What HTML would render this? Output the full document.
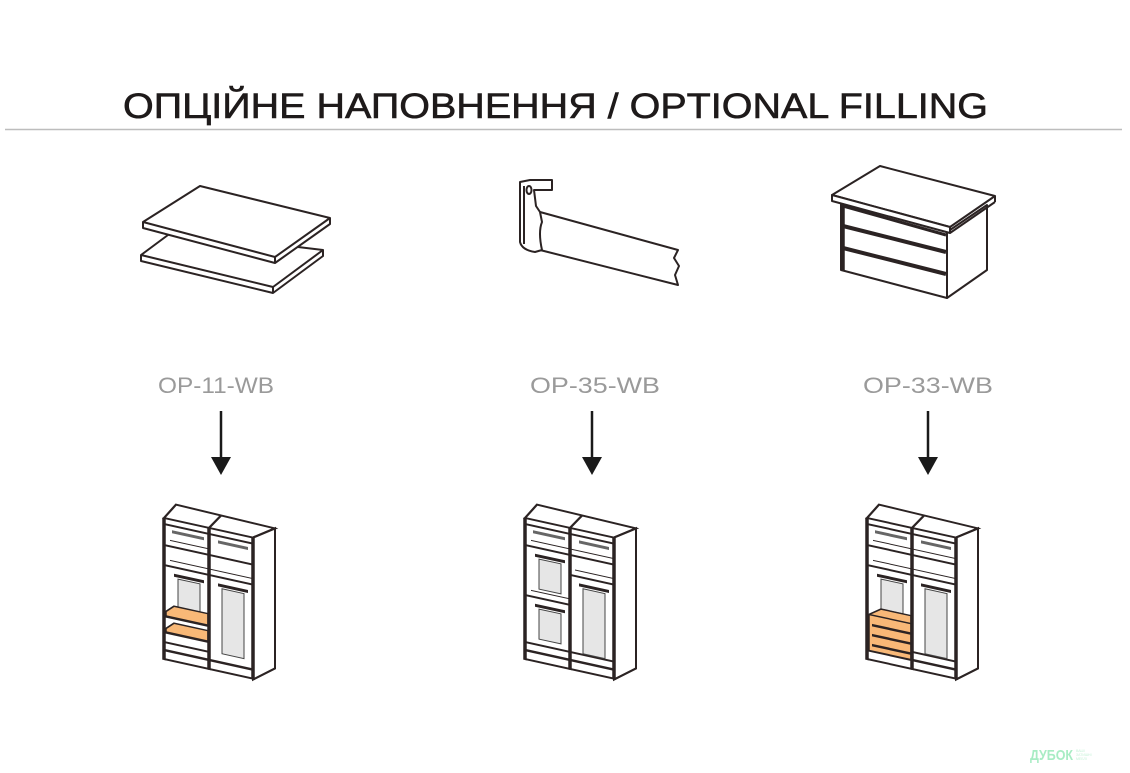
<!DOCTYPE html>
<html><head><meta charset="utf-8"><style>
html,body{margin:0;padding:0;background:#fff;width:1130px;height:773px;overflow:hidden}
svg{display:block}
text{font-family:"Liberation Sans",sans-serif}
</style></head><body>
<svg width="1130" height="773" viewBox="0 0 1130 773" xmlns="http://www.w3.org/2000/svg">
<defs>
<g id="ward">
  <polygon points="0,0 12,-16 111,-14 89,0" fill="#fff" stroke="#2b2323" stroke-width="2"/>
  <line x1="45" y1="0" x2="57" y2="-15" stroke="#2b2323" stroke-width="2"/>
  <polygon points="89,0 111,-14 111,126 89,142" fill="#fff" stroke="#2b2323" stroke-width="2"/>
  <line x1="0" y1="132" x2="89" y2="132" stroke="#2b2323" stroke-width="2.5"/>
  <line x1="0" y1="141" x2="89" y2="141" stroke="#2b2323" stroke-width="2"/>
  <line x1="0" y1="6" x2="89" y2="6" stroke="#2b2323" stroke-width="2"/>
</g>
<g id="posts">
  <line x1="0" y1="0" x2="0" y2="142" stroke="#2b2323" stroke-width="3.5"/>
  <line x1="45" y1="0" x2="45" y2="142" stroke="#2b2323" stroke-width="3.5"/>
  <line x1="89" y1="0" x2="89" y2="142" stroke="#2b2323" stroke-width="3.5"/>
</g>
</defs>

<text x="123" y="118" font-size="35" fill="#1e1a1a" stroke="#1e1a1a" stroke-width="0.6" textLength="865" lengthAdjust="spacingAndGlyphs">ОПЦІЙНЕ НАПОВНЕННЯ / OPTIONAL FILLING</text>
<line x1="5" y1="129.5" x2="1122" y2="129.5" stroke="#bdbdbd" stroke-width="1.5"/>

<!-- shelves icon -->
<g fill="#fff" stroke="#2b2323" stroke-width="2" stroke-linejoin="round">
  <polygon points="141,255 172,232 323,250 323,256 273,293 141,261"/>
  <line x1="141" y1="255" x2="273" y2="287"/><line x1="273" y1="287" x2="323" y2="250"/><line x1="273" y1="287" x2="273" y2="293"/>
  <polygon points="143,222 200,186 330,218 330,224 275,263 143,228"/>
  <line x1="143" y1="222" x2="275" y2="257"/><line x1="275" y1="257" x2="330" y2="218"/><line x1="275" y1="257" x2="275" y2="263"/>
</g>

<!-- rod icon -->
<g fill="#fff" stroke="#2b2323" stroke-width="2" stroke-linejoin="round">
  <path d="M540,212 L678,250 L674,258 L679,266 L675,275 L678,285 L540,250 Z"/>
  <path d="M520,182 L520,242 Q522,250 535,252 L542,250 Q538,232 542,222 L540,212 L536,206 L534,190 L552,190 L552,180 L530,180 Z"/>
  <line x1="524" y1="186" x2="524" y2="244"/>
  <ellipse cx="529" cy="190" rx="2.5" ry="4"/>
</g>

<!-- drawer chest icon -->
<g fill="#fff" stroke="#2b2323" stroke-width="2" stroke-linejoin="round">
  <polygon points="841,201 947,232 947,298 841,270"/>
  <polygon points="947,232 987,205 987,270 947,298"/>
  <polygon points="832,195 880,166 995,196 950,227"/>
  <polygon points="832,195 950,227 950,233 832,201"/>
  <line x1="950" y1="233" x2="995" y2="202"/><line x1="995" y1="196" x2="995" y2="202"/>
  <line x1="843" y1="204" x2="843" y2="271" stroke-width="3.5"/>
</g>
<g stroke="#2b2323" stroke-width="4">
  <line x1="843" y1="226" x2="946" y2="252"/>
  <line x1="843" y1="248" x2="946" y2="274"/>
</g>
<line x1="843" y1="206" x2="946" y2="235" stroke="#2b2323" stroke-width="3"/>

<!-- labels -->
<g font-size="22" fill="#9a9a9a">
  <text x="158" y="393" textLength="116" lengthAdjust="spacingAndGlyphs">OP-11-WB</text>
  <text x="530" y="393" textLength="130" lengthAdjust="spacingAndGlyphs">OP-35-WB</text>
  <text x="863" y="393" textLength="130" lengthAdjust="spacingAndGlyphs">OP-33-WB</text>
</g>

<!-- arrows -->
<g stroke="#1a1a1a" stroke-width="2.5">
  <line x1="221" y1="411" x2="221" y2="462"/>
  <line x1="592" y1="411" x2="592" y2="462"/>
  <line x1="928" y1="411" x2="928" y2="462"/>
</g>
<g fill="#1a1a1a">
  <polygon points="211,457 231,457 221,475"/>
  <polygon points="582,457 602,457 592,475"/>
  <polygon points="918,457 938,457 928,475"/>
</g>

<!-- wardrobe 1 -->
<g transform="translate(164,518) skewY(12.4)">
  <use href="#ward"/>
  <g stroke="#2b2323" stroke-width="2" fill="none">
    <line x1="0" y1="27" x2="45" y2="27"/><line x1="45" y1="27" x2="89" y2="27"/>
    <line x1="6" y1="21" x2="45" y2="21" stroke-width="1"/>
    <line x1="0" y1="47" x2="89" y2="47"/>
    <line x1="6" y1="41" x2="89" y2="41" stroke-width="1"/>
    <line x1="10" y1="55" x2="40" y2="55" stroke-width="3"/>
    <line x1="54" y1="55" x2="84" y2="55" stroke-width="3"/>
    <line x1="8" y1="12" x2="40" y2="12" stroke-width="3" stroke="#666"/>
    <line x1="54" y1="12" x2="84" y2="12" stroke-width="3" stroke="#666"/>
  </g>
  <rect x="14" y="58" width="22" height="34" fill="#e6e6e6" stroke="#444" stroke-width="1"/>
  <rect x="58" y="58" width="22" height="65" fill="#e6e6e6" stroke="#444" stroke-width="1"/>
  <polygon points="2,93 10,86 44,86 44,98 2,98" fill="#f8b877" stroke="#2b2323" stroke-width="1.5"/>
  <polygon points="2,110 10,103 44,103 44,114 2,114" fill="#f8b877" stroke="#2b2323" stroke-width="1.5"/>
  <line x1="0" y1="98" x2="45" y2="98" stroke="#2b2323" stroke-width="2.5"/>
  <line x1="0" y1="114" x2="45" y2="114" stroke="#2b2323" stroke-width="2.5"/>
  <line x1="0" y1="124" x2="45" y2="124" stroke="#2b2323" stroke-width="2"/>
  <use href="#posts"/>
</g>

<!-- wardrobe 2 -->
<g transform="translate(525,518) skewY(12.4)">
  <use href="#ward"/>
  <g stroke="#2b2323" stroke-width="2" fill="none">
    <line x1="0" y1="27" x2="89" y2="27"/>
    <line x1="6" y1="21" x2="89" y2="21" stroke-width="1"/>
    <line x1="45" y1="47" x2="89" y2="47"/>
    <line x1="50" y1="41" x2="89" y2="41" stroke-width="1"/>
    <line x1="0" y1="77" x2="45" y2="77"/>
    <line x1="6" y1="71" x2="45" y2="71" stroke-width="1"/>
    <line x1="10" y1="35" x2="40" y2="35" stroke-width="3"/>
    <line x1="10" y1="85" x2="40" y2="85" stroke-width="3"/>
    <line x1="54" y1="55" x2="84" y2="55" stroke-width="3"/>
    <line x1="8" y1="12" x2="40" y2="12" stroke-width="3" stroke="#666"/>
    <line x1="54" y1="12" x2="84" y2="12" stroke-width="3" stroke="#666"/>
    <line x1="0" y1="124" x2="89" y2="124"/>
  </g>
  <rect x="14" y="38" width="22" height="30" fill="#e6e6e6" stroke="#444" stroke-width="1"/>
  <rect x="14" y="88" width="22" height="30" fill="#e6e6e6" stroke="#444" stroke-width="1"/>
  <rect x="58" y="58" width="22" height="65" fill="#e6e6e6" stroke="#444" stroke-width="1"/>
  <use href="#posts"/>
</g>

<!-- wardrobe 3 -->
<g transform="translate(867,518) skewY(12.4)">
  <use href="#ward"/>
  <g stroke="#2b2323" stroke-width="2" fill="none">
    <line x1="0" y1="27" x2="89" y2="27"/>
    <line x1="6" y1="21" x2="89" y2="21" stroke-width="1"/>
    <line x1="0" y1="47" x2="89" y2="47"/>
    <line x1="6" y1="41" x2="89" y2="41" stroke-width="1"/>
    <line x1="10" y1="55" x2="40" y2="55" stroke-width="3"/>
    <line x1="54" y1="55" x2="84" y2="55" stroke-width="3"/>
    <line x1="8" y1="12" x2="40" y2="12" stroke-width="3" stroke="#666"/>
    <line x1="54" y1="12" x2="84" y2="12" stroke-width="3" stroke="#666"/>
    <line x1="45" y1="124" x2="89" y2="124"/>
  </g>
  <rect x="14" y="58" width="22" height="30" fill="#e6e6e6" stroke="#444" stroke-width="1"/>
  <rect x="58" y="58" width="22" height="65" fill="#e6e6e6" stroke="#444" stroke-width="1"/>
  <polygon points="2,96 14,88 44,88 44,132 2,132" fill="#f8b877" stroke="#2b2323" stroke-width="1.5"/>
  <line x1="2" y1="96" x2="44" y2="96" stroke="#2b2323" stroke-width="1.5"/>
  <g stroke="#2b2323" stroke-width="2.5">
    <line x1="5" y1="106" x2="44" y2="106"/><line x1="5" y1="116" x2="44" y2="116"/><line x1="5" y1="126" x2="44" y2="126"/>
  </g>
  <use href="#posts"/>
</g>

<!-- logo -->
<text x="1030" y="760" font-size="15" font-weight="bold" fill="#a8ecc4" textLength="43" lengthAdjust="spacingAndGlyphs">ДУБОК</text>
<g fill="#c6f2d8" font-size="3.5"><text x="1076" y="752">ВАШІ</text><text x="1076" y="756">ЗАТИШНІ</text><text x="1076" y="760">МЕБЛІ</text></g>
</svg>
</body></html>
